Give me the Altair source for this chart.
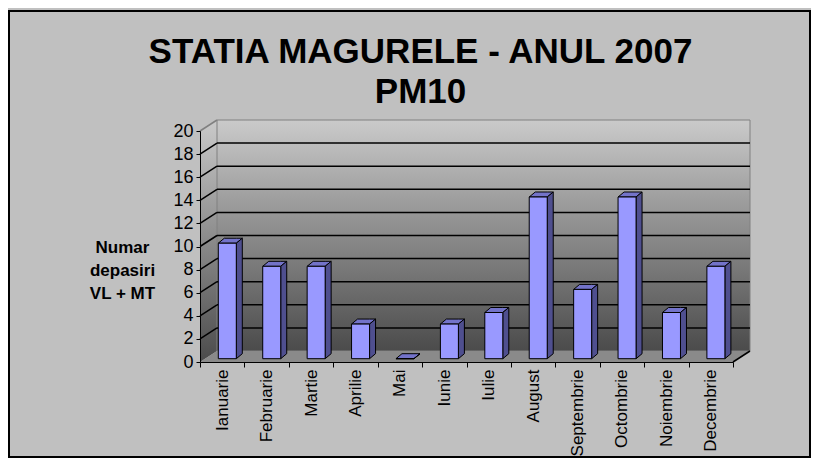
import altair as alt
import pandas as pd

# ---------------- data ----------------
MONTHS = ["Ianuarie", "Februarie", "Martie", "Aprilie", "Mai", "Iunie",
          "Iulie", "August", "Septembrie", "Octombrie", "Noiembrie", "Decembrie"]
VALUES = [10, 8, 8, 3, 0, 3, 4, 14, 6, 14, 4, 8]
Y_TICKS = [0, 2, 4, 6, 8, 10, 12, 14, 16, 18, 20]
TITLE_LINES = ["STATIA MAGURELE  - ANUL 2007", "PM10"]
Y_TITLE_LINES = ["Numar", "depasiri", "VL + MT"]

# ---------------- geometry (pixels -> scale units) ----------------
W, H = 533, 231
N = len(MONTHS)
Y_MAX = 20
UX = N / W
UY = Y_MAX / H
DX, DY = 17 * UX, 11 * UY        # depth of the 3D box
BW = 18 * UX                       # bar front width
EX, EY = 6 * UX, 5 * UY            # bar extrusion
F = 0.3                            # depth position of bar front face

FONT = "Liberation Sans"
FRONT_C, TOP_C, SIDE_C = "#9999FF", "#7373C9", "#4F4F8F"
WALL_GRAD = alt.Gradient(
    gradient="linear",
    stops=[alt.GradientStop(color="#CACACA", offset=0),
           alt.GradientStop(color="#4B4B4B", offset=1)],
    x1=0, x2=0, y1=0, y2=1)

XS = alt.Scale(domain=[0, N], nice=False, zero=False)
YS = alt.Scale(domain=[0, Y_MAX], nice=False, zero=False)

Y_AXIS = alt.Axis(values=Y_TICKS, title=Y_TITLE_LINES, titleAngle=0, titleX=-78, titleY=116,
                  titleAlign="center", titleBaseline="middle", titleFont=FONT,
                  titleFontSize=17, titleFontWeight="bold", titleLineHeight=23,
                  titleColor="black", labelFont=FONT, labelFontSize=18, labelColor="black",
                  labelPadding=3, tickSize=4, tickColor="black", domainColor="black",
                  grid=False, zindex=2)


def xq(field):
    return alt.X(field, type="quantitative", scale=XS, axis=None)


def yq(field):
    return alt.Y(field, type="quantitative", scale=YS, axis=Y_AXIS, stack=False)


def y2q(field):
    return alt.Y2(field)


# ---------------- derived tables ----------------
side_wall = pd.DataFrame({"x": [0, DX], "lo": [0, DY], "hi": [Y_MAX, Y_MAX + DY]})
back_wall = pd.DataFrame({"x0": [DX], "x1": [N + DX], "y0": [DY], "y1": [Y_MAX + DY]})
floor = pd.DataFrame({"x": [0, DX, N, N + DX], "lo": [0, 0, 0, DY], "hi": [0, DY, DY, DY]})
grid_back = pd.DataFrame({"x0": DX, "x1": N + DX, "y": [v + DY for v in Y_TICKS[1:-1]]})
grid_side = pd.DataFrame({"x0": 0.0, "x1": DX,
                          "y0": [float(v) for v in Y_TICKS[1:]],
                          "y1": [v + DY for v in Y_TICKS[1:]],
                          "c": ["k"] * (len(Y_TICKS) - 2) + ["g"]})
floor_edge = pd.DataFrame({"x0": [N], "x1": [N + DX], "y0": [0.0], "y1": [DY]})

front_rows, top_rows, side_rows = [], [], []
for i, (m, v) in enumerate(zip(MONTHS, VALUES)):
    x0 = i + 0.5 - BW / 2 + F * DX
    x1 = x0 + BW
    yb = F * DY
    yt = v + F * DY
    front_rows.append({"m": m, "x0": x0, "x1": x1, "yb": yb, "yt": yt})
    for x, lo, hi in [(x0, yt, yt), (x0 + EX, yt, yt + EY), (x1, yt, yt + EY), (x1 + EX, yt + EY, yt + EY)]:
        top_rows.append({"m": m, "x": x, "lo": lo, "hi": hi})
    for x, lo, hi in [(x1, yb, yt), (x1 + EX, yb + EY, yt + EY)]:
        side_rows.append({"m": m, "x": x, "lo": lo, "hi": hi})
front = pd.DataFrame(front_rows)
top = pd.DataFrame(top_rows)
side = pd.DataFrame(side_rows)

# ---------------- layers ----------------
l_side_wall = alt.Chart(side_wall).mark_area(orient="vertical", fill=WALL_GRAD).encode(
    x=xq("x"), y=yq("lo"), y2=y2q("hi"))

l_back_wall = alt.Chart(back_wall).mark_rect(fill=WALL_GRAD, stroke="#808080", strokeWidth=1).encode(
    x=xq("x0"), x2=alt.X2("x1"), y=yq("y0"), y2=y2q("y1"))

l_floor = alt.Chart(floor).mark_area(orient="vertical", fill="#8A8A8A").encode(
    x=xq("x"), y=yq("lo"), y2=y2q("hi"))

l_grid_back = alt.Chart(grid_back).mark_rule(color="black", strokeWidth=1.5).encode(
    x=xq("x0"), x2=alt.X2("x1"), y=yq("y"))

l_grid_side = alt.Chart(grid_side).mark_rule(strokeWidth=1.5).encode(
    x=xq("x0"), x2=alt.X2("x1"), y=yq("y0"), y2=y2q("y1"),
    color=alt.Color("c:N", scale=alt.Scale(domain=["k", "g"], range=["black", "#808080"]), legend=None))

l_floor_edge = alt.Chart(floor_edge).mark_rule(color="black", strokeWidth=1.5).encode(
    x=xq("x0"), x2=alt.X2("x1"), y=yq("y0"), y2=y2q("y1"))

face_layers = []
for m in MONTHS:
    face_layers.append(
        alt.Chart(top[top["m"] == m]).mark_area(orient="vertical", fill=TOP_C, stroke="black",
                                                 strokeWidth=1, strokeJoin="miter").encode(
            x=xq("x"), y=yq("lo"), y2=y2q("hi")))
    face_layers.append(
        alt.Chart(side[side["m"] == m]).mark_area(orient="vertical", fill=SIDE_C, stroke="black",
                                                   strokeWidth=1, strokeJoin="miter").encode(
            x=xq("x"), y=yq("lo"), y2=y2q("hi")))

l_front = alt.Chart(front).mark_rect(fill=FRONT_C, stroke="black", strokeWidth=1).encode(
    x=xq("x0"), x2=alt.X2("x1"), y=yq("yb"), y2=y2q("yt"))

l_axes = alt.Chart(pd.DataFrame({"m": MONTHS, "v": VALUES})).mark_point(opacity=0).encode(
    x=alt.X("m:N", sort=MONTHS,
            scale=alt.Scale(type="band", paddingInner=0, paddingOuter=0),
            axis=alt.Axis(title=None, labelAngle=-90, labelAlign="right", labelBaseline="middle",
                          labelFont=FONT, labelFontSize=17, labelColor="black", labelPadding=2,
                          tickBand="extent", tickSize=5, tickColor="black", domainColor="black",
                          grid=False, labelOverlap=False, zindex=2)),
    y=yq("v"))

l_border = alt.Chart(pd.DataFrame({"a": [0]})).mark_rect(fill="transparent", stroke="black",
                                                        strokeWidth=2).encode(
    x=alt.value(-191), x2=alt.value(W + 77), y=alt.value(-120), y2=alt.value(H + 95))

chart = alt.layer(
    l_border, l_side_wall, l_back_wall, l_floor, l_grid_back, l_grid_side, l_floor_edge,
    *face_layers, l_front, l_axes
).resolve_scale(x="independent").properties(
    width=W, height=H,
    title=alt.TitleParams(text=TITLE_LINES, font=FONT, fontSize=35, fontWeight="bold",
                          color="black", anchor="middle", dx=-46, offset=-100, lineHeight=40),
    autosize=alt.AutoSizeParams(type="none"),
    padding={"left": 192, "top": 123, "right": 78, "bottom": 96},
).configure(background="#C0C0C0").configure_view(strokeWidth=0)

chart.save("out.html", embed_options={"renderer": "svg", "actions": False})
